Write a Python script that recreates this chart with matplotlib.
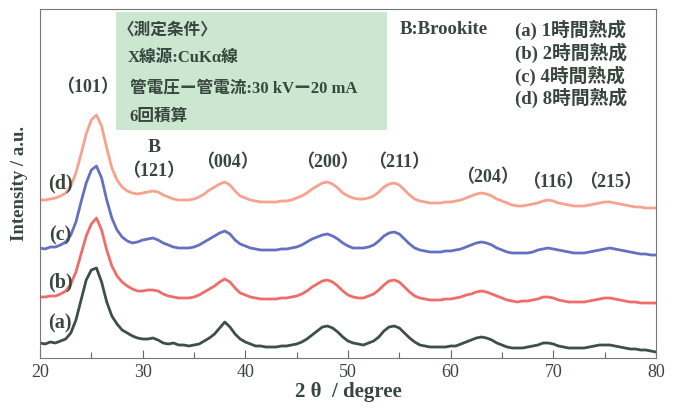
import numpy as np
import matplotlib
matplotlib.use('Agg')
import matplotlib.pyplot as plt
from matplotlib.patches import Rectangle
from matplotlib.ticker import MultipleLocator

# 2theta grid of the digitised patterns (0.5 degree steps, 20-80)
two_theta = np.arange(20, 80.01, 0.5)

# intensities, already stacked with the vertical offsets
a_1h = [15, 14, 16, 15, 17, 19, 25, 38, 58, 78,
        88, 90, 76, 56, 42, 34, 28, 25, 22, 20,
        19, 19, 20, 18, 15, 14, 15, 13, 13, 12,
        13, 14, 17, 20, 24, 30, 36, 31, 24, 19,
        16, 14, 12, 12, 11, 11, 11, 12, 12, 13,
        14, 16, 19, 23, 27, 31, 32, 30, 26, 21,
        17, 15, 14, 13, 15, 17, 21, 27, 31, 32,
        30, 25, 20, 16, 13, 12, 11, 11, 11, 11,
        12, 12, 14, 16, 18, 20, 21, 20, 18, 15,
        13, 11, 10, 10, 10, 11, 12, 13, 15, 15,
        14, 12, 11, 10, 10, 10, 10, 11, 12, 13,
        13, 13, 12, 11, 10, 9, 9, 8, 8, 7,
        6]
b_2h = [61, 61, 62, 62, 64, 67, 74, 86, 104, 122,
        134, 140, 128, 108, 92, 82, 76, 72, 69, 67,
        67, 68, 68, 67, 64, 62, 61, 60, 60, 60,
        61, 63, 66, 69, 72, 76, 79, 76, 70, 65,
        63, 61, 60, 59, 59, 59, 59, 60, 60, 61,
        62, 64, 67, 71, 74, 77, 78, 76, 72, 67,
        63, 61, 60, 60, 62, 64, 68, 73, 77, 78,
        76, 71, 66, 62, 60, 59, 58, 58, 58, 59,
        59, 60, 61, 63, 64, 66, 67, 66, 64, 62,
        60, 58, 57, 56, 57, 57, 58, 59, 61, 61,
        60, 58, 57, 56, 56, 56, 56, 57, 58, 59,
        60, 60, 59, 58, 57, 56, 56, 55, 55, 55,
        55]
c_4h = [110, 109, 111, 111, 113, 116, 123, 136, 156, 175,
        188, 192, 180, 158, 140, 128, 121, 117, 115, 116,
        118, 119, 120, 118, 115, 113, 111, 110, 110, 110,
        111, 113, 116, 119, 122, 125, 127, 124, 118, 114,
        112, 110, 109, 108, 108, 108, 108, 109, 109, 110,
        111, 113, 116, 119, 121, 123, 124, 122, 119, 115,
        112, 110, 110, 110, 111, 113, 117, 122, 125, 126,
        124, 119, 114, 110, 108, 107, 106, 106, 106, 107,
        107, 108, 109, 111, 113, 115, 116, 115, 113, 110,
        108, 106, 105, 105, 105, 105, 106, 108, 109, 110,
        109, 108, 107, 106, 105, 105, 105, 106, 107, 108,
        109, 110, 109, 108, 107, 106, 105, 104, 104, 103,
        103]
d_8h = [158, 158, 159, 160, 162, 165, 172, 185, 204, 224,
        238, 243, 232, 210, 190, 178, 171, 167, 165, 164,
        165, 166, 167, 166, 163, 161, 159, 158, 158, 158,
        159, 161, 164, 168, 171, 174, 176, 173, 167, 162,
        160, 158, 157, 156, 156, 156, 156, 157, 157, 158,
        160, 162, 165, 169, 172, 175, 176, 174, 170, 165,
        162, 160, 159, 159, 160, 162, 166, 171, 174, 175,
        173, 168, 163, 159, 157, 156, 155, 155, 155, 156,
        156, 157, 158, 160, 162, 164, 165, 164, 162, 159,
        157, 155, 153, 152, 152, 153, 154, 155, 157, 158,
        157, 155, 154, 153, 152, 152, 152, 153, 154, 155,
        156, 156, 155, 154, 153, 152, 151, 151, 150, 150,
        150]

series = [a_1h, b_2h, c_4h, d_8h]
series_tags = ['(a)', '(b)', '(c)', '(d)']
series_colors = ['#3e4e49', '#ee6d6b', '#6371c0', '#f6a28f']
tag_y = [35, 76, 123, 175]

legend_lines = ['(a) 1時間熟成', '(b) 2時間熟成', '(c) 4時間熟成', '(d) 8時間熟成']
cond_lines = ['〈測定条件〉', 'X線源:CuKα線', '管電圧ー管電流:30 kVー20 mA', '6回積算']

peak_labels = ['101', '121', '004', '200', '211', '204', '116', '215']
peak_x = [24.65, 31.05, 38.3, 48.0, 55.0, 63.6, 69.95, 75.6]
peak_y = [270, 186, 195, 195, 195, 180, 175, 175]

txt = '#38463f'
fam = ['Liberation Serif', 'Noto Sans CJK JP']

fig = plt.figure(figsize=(6.75, 4.08), dpi=100)
ax = fig.add_axes([40 / 675, 50 / 408, 616 / 675, 349 / 408])

for vals, col in zip(series, series_colors):
    ax.plot(two_theta, vals, color=col, lw=2.0)

ax.set_xlim(20, 80)
ax.set_ylim(0, 349)
ax.set_yticks([])
ax.xaxis.set_major_locator(MultipleLocator(10))
ax.xaxis.set_minor_locator(MultipleLocator(5))
ax.tick_params(axis='x', which='major', direction='in', length=6, width=0.8, colors='#666666',
               labelcolor=txt, pad=4)
ax.tick_params(axis='x', which='minor', direction='in', length=4.5, width=0.8, colors='#666666')
for lab in ax.get_xticklabels():
    lab.set_family(fam)
    lab.set_fontsize(13)
for sp in ax.spines.values():
    sp.set_color('#777777')
    sp.set_linewidth(0.8)

ax.set_xlabel('2 θ  / degree', family=fam, fontsize=15, fontweight='bold', color=txt, labelpad=1)
ax.set_ylabel('Intensity / a.u.', family=fam, fontsize=13.5, fontweight='bold', color=txt)
ax.yaxis.set_label_coords(-0.02, 0.5)

# measurement-condition box
ax.add_patch(Rectangle((0.123, 0.653), 0.44, 0.338, transform=ax.transAxes,
                       facecolor='#cbe7cf', edgecolor='none', zorder=0))
cond_px = [(118, 30), (128, 58), (130, 89), (129, 117)]
for s, (px, py) in zip(cond_lines, cond_px):
    ax.text((px - 40) / 616, (358 - py) / 349, s, transform=ax.transAxes, family=fam,
            fontsize=12, fontweight='bold', color=txt, ha='left', va='center')

ax.text((400 - 40) / 616, (358 - 30) / 349, 'B:Brookite', transform=ax.transAxes, family=fam,
        fontsize=13.5, fontweight='bold', color=txt, ha='left', va='center')
for s, py in zip(legend_lines, [30, 53, 76, 98]):
    ax.text((515 - 40) / 616, (358 - py) / 349, s, transform=ax.transAxes, family=fam,
            fontsize=13.5, fontweight='bold', color=txt, ha='left', va='center')

# hkl labels, brookite (121) marked with B above it
for s, x, y in zip(peak_labels, peak_x, peak_y):
    ax.text(x, y, '（' + s + '）', family=fam, fontsize=13, fontweight='bold', color=txt,
            ha='center', va='center')
ax.text(31.1, 210, 'B', family=fam, fontsize=14, fontweight='bold', color=txt,
        ha='center', va='center')

for s, y in zip(series_tags, tag_y):
    ax.text(21.95, y, s, family=fam, fontsize=14.5, fontweight='bold', color=txt,
            ha='center', va='center')

fig.savefig('out.png', dpi=100)
